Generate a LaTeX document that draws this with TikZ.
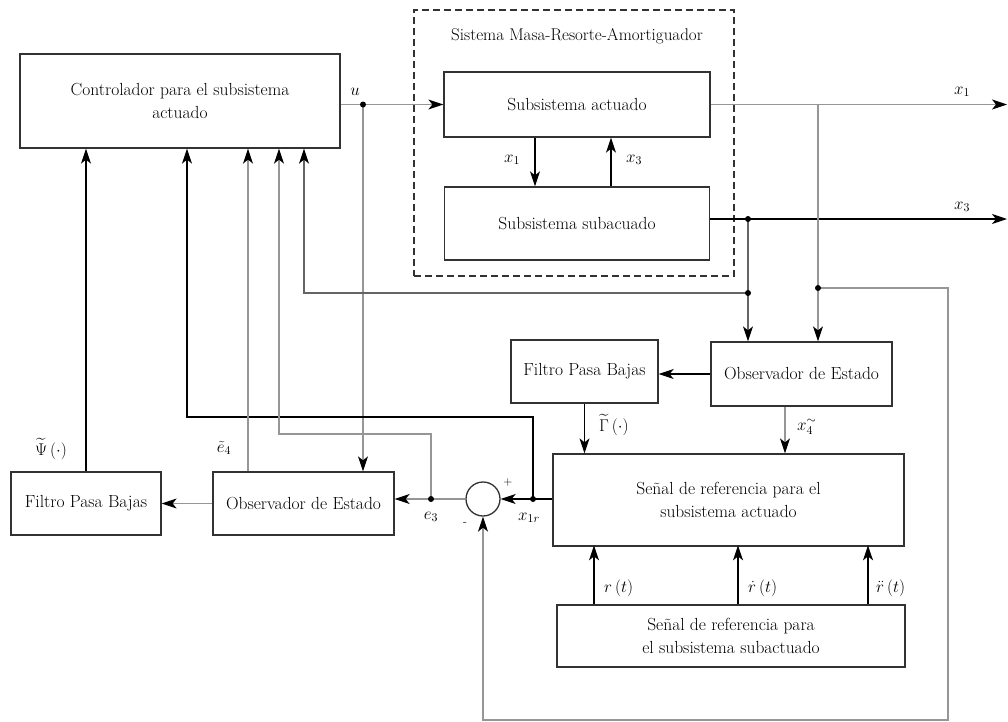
\documentclass[tikz,border=0pt]{standalone}
\usepackage{fix-cm}
\usepackage{amsmath,amssymb}
\usepackage{tikz}
\usetikzlibrary{arrows.meta,positioning}
\definecolor{boxgray}{RGB}{50,50,50}
\definecolor{wiregray}{RGB}{150,150,150}
\definecolor{darkwire}{RGB}{100,100,100}

\begin{document}
\begin{tikzpicture}[
  x=1pt,y=-1pt,
  box/.style={draw=boxgray,line width=1.3pt,align=center,inner sep=0pt,
    font=\fontsize{17.5}{23}\selectfont},
  dashframe/.style={draw=boxgray,dash pattern=on 7pt off 4pt,line width=1.1pt,
    minimum width=320pt,minimum height=266pt},
  sumnode/.style={circle,draw=boxgray,line width=1.3pt,minimum size=34pt,inner sep=0pt},
  lbl/.style={font=\fontsize{17}{20}\selectfont,inner sep=0pt},
  sgn/.style={font=\fontsize{12}{14}\selectfont,inner sep=0pt},
  barr/.style={-{Stealth[length=15pt,width=10pt,inset=4pt,color=black]},
    draw=black,line width=1.2pt},
  garr/.style={barr,draw=wiregray},
  darr/.style={barr,draw=darkwire},
  dot/.style={circle,fill=black,inner sep=0pt,minimum size=6pt}
]
\useasboundingbox (0,0) rectangle (1008,721);
% blocks
\node[box,minimum width=320pt,minimum height=94pt] (ctrl) at (180,101) {Controlador para el subsistema\\actuado};
\node[dashframe] (msa) at (574,143) {};
\node[lbl] (msatitle) at (577,36) {Sistema Masa-Resorte-Amortiguador};
\node[box,minimum width=266pt,minimum height=65pt] (act) at (577,104.5) {Subsistema actuado};
\node[box,minimum width=265pt,minimum height=73pt] (sub) at (577,223.5) {Subsistema subacuado};
\node[box,minimum width=181pt,minimum height=64pt] (obsR) at (801.5,374) {Observador de Estado};
\node[box,minimum width=147pt,minimum height=63pt] (filR) at (584.5,371.5) {Filtro Pasa Bajas};
\node[box,minimum width=351pt,minimum height=92pt] (senA) at (728.5,500) {Señal de referencia para el\\subsistema actuado};
\node[box,minimum width=348pt,minimum height=62pt] (senB) at (731,636) {Señal de referencia para\\el subsistema subactuado};
\node[sumnode] (sum) at (483,499) {};
\node[box,minimum width=181pt,minimum height=63pt] (obsL) at (303.5,503.5) {Observador de Estado};
\node[box,minimum width=150pt,minimum height=63pt] (filL) at (86,503.5) {Filtro Pasa Bajas};
% junctions
\coordinate (uj) at (363,104.5);
\coordinate (x1j) at (818,104.5);
\coordinate (x1k) at (818,288);
\coordinate (x3j) at (748,219);
\coordinate (x3k) at (748,293);
\coordinate (x1end) at (1007,104.5);
\coordinate (x3end) at (1007,219);
\coordinate (xr) at (533,499);
\coordinate (ej) at (431,499);
\coordinate (inX) at ([xshift=7pt]ctrl.south);
\coordinate (inE4) at ([xshift=68pt]ctrl.south);
\coordinate (inE3) at ([xshift=99pt]ctrl.south);
\coordinate (inX3) at ([xshift=124pt]ctrl.south);
\coordinate (x1dn) at ([xshift=-42pt]act.south);
\coordinate (x3up) at ([xshift=34pt]sub.north);
\coordinate (x4c) at ([xshift=-16.5pt]obsR.south);
% plant
\draw[garr] (ctrl.east |- uj) -- (act.west |- uj);
\draw[garr] (uj) -- (uj |- obsL.north);
\draw[barr] (x1dn) -- (x1dn |- sub.north);
\draw[barr] (x3up) -- (x3up |- act.south);
\draw[garr] (act.east) -- (x1end);
\draw[barr] (sub.east |- x3j) -- (x3end);
\draw[garr] (x1j) -- (x1j |- obsR.north);
\draw[darr] (x3j) -- (x3j |- obsR.north);
\draw[darr] (x3k) -| (inX3);
\draw[garr] (x1k) -- ++(130,0) -- ++(0,432) -| (sum.south);
% observers and filters
\draw[barr] (obsR.west) -- (filR.east |- obsR.west);
\draw[barr] (filR.south) -- (filR.south |- senA.north);
\draw[garr] (x4c) -- (x4c |- senA.north);
\draw[barr] ([xshift=-137pt]senB.north) -- ++(0,-59);
\draw[barr] ([xshift=7pt]senB.north) -- ++(0,-59);
\draw[barr] ([xshift=137pt]senB.north) -- ++(0,-59);
\draw[barr] (senA.west |- sum) -- (sum.east);
\draw[barr] (xr) -- ++(0,-82) -| (inX);
\draw[garr] (sum.west) -- (obsL.east |- sum);
\draw[garr] (ej) -- ++(0,-65) -| (inE3);
\draw[garr] (obsL.west) -- (filL.east);
\draw[garr] (inE4 |- obsL.north) -- (inE4);
\draw[barr] (filL.north) -- (filL.north |- ctrl.south);
% dots
\node[dot] (ujdot) at (uj) {};
\node[dot] (x1kdot) at (x1k) {};
\node[dot] (x3jdot) at (x3j) {};
\node[dot] (x3kdot) at (x3k) {};
\node[dot] (xrdot) at (xr) {};
\node[dot] (ejdot) at (ej) {};
% labels
\node[lbl] (lu) at (355,92) {$u$};
\node[lbl] (lx1a) at (512,160) {$x_1$};
\node[lbl] (lx3a) at (634,160) {$x_3$};
\node[lbl] (lx1o) at (962,92) {$x_1$};
\node[lbl] (lx3o) at (962,207) {$x_3$};
\node[lbl] (lpsi) at (51,449) {$\widetilde{\Psi}\,(\cdot)$};
\node[lbl] (le4) at (224,448) {$\tilde{e}_4$};
\node[lbl] (le3) at (431,517) {$e_3$};
\node[lbl] (lx1r) at (529,518) {$x_{1r}$};
\node[sgn] (lplus) at (508,482) {$+$};
\node[sgn] (lminus) at (465,524) {-};
\node[lbl,anchor=west] (lgam) at (599,425) {$\widetilde{\Gamma}\,(\cdot)$};
\node[lbl,anchor=west] (lx4) at (797,427) {$x^{\sim}_4$};
\node[lbl,anchor=west] (lr) at (604,588) {$r\,(t)$};
\node[lbl,anchor=west] (lrd) at (748,588) {$\dot r\,(t)$};
\node[lbl,anchor=west] (lrdd) at (876,588) {$\ddot r\,(t)$};
\end{tikzpicture}
\end{document}
